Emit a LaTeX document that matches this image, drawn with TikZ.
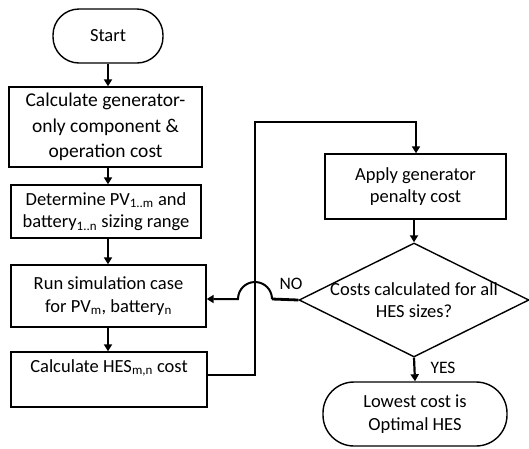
\documentclass[tikz,border=0pt]{standalone}
\usepackage{fontspec}
\setmainfont{Carlito}
\usetikzlibrary{arrows.meta,shapes.geometric}
\tikzset{
  box/.style={draw, line width=1.4pt, align=center, inner sep=0pt, font=\fontsize{18.5}{22.5}\selectfont},
  term/.style={box, rounded corners=26pt},
  conn/.style={line width=2.2pt, -{Triangle[length=7pt,width=8pt]}},
  lab/.style={font=\fontsize{17.5}{20}\selectfont, inner sep=0pt}
}
\begin{document}
\begin{tikzpicture}[x=1pt,y=-1pt]
\useasboundingbox (0,0) rectangle (529,448);
\node[term, minimum width=110, minimum height=54] (start) at (108,36) {Start};
\node[box, minimum width=193, minimum height=80, font=\fontsize{19.5}{25.5}\selectfont] (b1) at (105.5,127) {Calculate generator-\\only component \&\\operation cost};
\node[box, minimum width=190, minimum height=53] (b2) at (106,211.5) {Determine PV\textsubscript{1..m} and\\battery\textsubscript{1..n} sizing range};
\node[box, minimum width=195, minimum height=62] (b3) at (108.5,296) {Run simulation case\\for PV\textsubscript{m}, battery\textsubscript{n}};
\node[box, minimum width=196, minimum height=55] (b4) at (109,379.5) {};
\node[font=\fontsize{18.5}{22.5}\selectfont, inner sep=0pt] (b4t) at (109,368) {Calculate HES\textsubscript{m,n} cost};
\node[box, minimum width=181, minimum height=65] (apply) at (415.5,186.5) {Apply generator\\penalty cost};
\node[diamond, draw, line width=1.4pt, minimum width=230, minimum height=114, inner sep=0pt] (dec) at (414,300) {};
\node[align=center, inner sep=0pt, font=\fontsize{18.5}{22.5}\selectfont] (dect) at (414,300) {Costs calculated for all\\HES sizes?};
\node[box, rounded corners=31pt, minimum width=184, minimum height=64] (end) at (415,414) {Lowest cost is\\Optimal HES};
\node[lab] (no) at (291,284) {NO};
\node[lab] (yes) at (443,368) {YES};
\coordinate (loopA) at (255,375);
\coordinate (loopB) at (255,122);
\coordinate (loopC) at (416,122);
\coordinate (jumpR) at (272,299);
\coordinate (jumpL) at (238,299);
\draw[conn] (start.south) -- (start.south |- b1.north);
\draw[conn] (b1.south -| start.south) -- (start.south |- b2.north);
\draw[conn] (b2.south -| start.south) -- (start.south |- b3.north);
\draw[conn] (b3.south -| start.south) -- (start.south |- b4.north);
\draw[conn, line width=2.6pt] (b4.east |- loopA) -- (loopA) -- (loopB) -- (loopC) -- (loopC |- apply.north);
\draw[conn] (apply.south -| dec.north) -- (dec.north);
\draw[line width=2.8pt] (dec.west) -- (jumpR);
\draw[conn, line width=2pt] (jumpR) arc[start angle=0, end angle=180, radius=17pt] -- (b3.east |- jumpL);
\draw[conn] (dec.south) -- (end.north);
\end{tikzpicture}
\end{document}
